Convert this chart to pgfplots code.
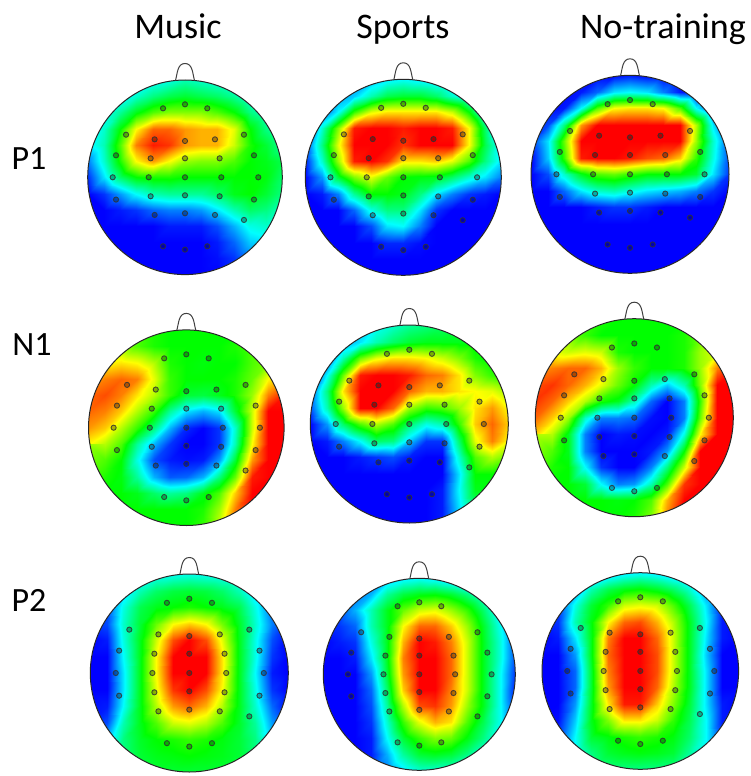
\documentclass[border=0pt]{standalone}
\usepackage{pgfplots}
\pgfplotsset{compat=1.18}
\usepackage{pgfplotstable}
\usepackage{fontspec}
\setmainfont{Carlito}
\pgfplotstableread{
x y
-.226 -.709
0 -.75
.229 -.709
-.606 -.438
-.312 -.390
0 -.373
.308 -.390
.606 -.438
-.709 -.226
-.353 -.195
0 -.195
.356 -.195
.709 -.226
-.743 0
-.373 0
0 0
.373 0
.753 0
-.709 .229
-.353 .195
0 .185
.356 .195
.709 .229
-.312 .387
0 .370
.308 .387
.606 .438
-.226 .709
0 .743
.229 .709
}\electrodes
\newcommand\headmap[4]{%
 \addplot[surf,shader=interp,mesh/cols=13,mesh/ordering=x varies,point meta=explicit]
  table[row sep=crcr,header=false,x expr={#1+(mod(\coordindex,13)-6)*#3/6},y expr={#2+(floor(\coordindex/13)-6)*#3/6},meta index=0] {#4};
}
\newcommand\headdeco[3]{%
 \fill[white,even odd rule] (axis cs:{#1-#3-4},{#2-#3-4}) rectangle (axis cs:{#1+#3+4},{#2+#3+4}) (axis cs:#1,#2) circle[radius=#3pt];
 \draw[black!85,line width=1pt] (axis cs:#1,#2) circle[radius=#3pt];
 \draw[black!75,line width=1pt] (axis cs:{#1-9.5},{#2-#3+.5}) to[out=75,in=180] (axis cs:#1,{#2-#3-16.5}) to[out=0,in=105] (axis cs:{#1+9.5},{#2-#3+.5});
 \addplot[only marks,mark=*,mark size=2.6pt,mark options={draw=black!80,line width=.9pt,fill=black,fill opacity=.3,draw opacity=.85}] table[x expr={#1+\thisrow{x}*#3},y expr={#2+\thisrow{y}*#3}] {\electrodes};
}
\begin{document}
\begin{tikzpicture}
\begin{axis}[hide axis,scale only axis,width=750pt,height=776pt,xmin=0,xmax=750,ymin=0,ymax=776,y dir=reverse,clip=false,
 colormap={hd}{rgb255=(0,0,255) rgb255=(0,255,255) rgb255=(0,255,0) rgb255=(255,255,0) rgb255=(255,0,0)},
 point meta min=0,point meta max=4]
\path (axis cs:0,0) rectangle (axis cs:750,776);
% P1 Music
\headmap{185}{177.3}{97.3}{.6\\.7\\.8\\.9\\1\\1.1\\1.3\\1.2\\1.1\\1\\.9\\.8\\.7\\
.7\\.8\\.9\\1.2\\1.5\\1.7\\1.8\\1.7\\1.6\\1.4\\1.1\\.9\\.8\\
.8\\1\\1.4\\1.9\\2.3\\2.5\\2.5\\2.5\\2.3\\2\\1.5\\1.2\\1\\
.9\\1.2\\2\\3\\3.6\\3.6\\3.4\\3.3\\3.3\\2.9\\2\\1.5\\1.2\\
.9\\1.3\\2.3\\3.5\\3.9\\3.8\\3.4\\3.3\\3.3\\2.8\\2.1\\1.8\\1.4\\
.5\\1.2\\2.1\\3\\3.4\\3\\2.6\\2.5\\2.5\\2.3\\2\\1.9\\1.7\\
.2\\.9\\1.6\\2\\2.1\\2.1\\2\\2\\2\\2\\2\\1.95\\1.6\\
0\\.2\\.6\\1\\1.3\\1.4\\1.4\\1.4\\1.6\\1.9\\2\\1.8\\1.5\\
0\\0\\.1\\.2\\.4\\.5\\.5\\.6\\.9\\1.3\\1.6\\1.5\\1.2\\
0\\0\\0\\0\\0\\.1\\.1\\.1\\.3\\.7\\1.1\\1.2\\1\\
0\\0\\0\\0\\0\\0\\0\\0\\.1\\.4\\.8\\.9\\.8\\
0\\0\\0\\0\\0\\0\\0\\0\\.05\\.2\\.5\\.6\\.6\\
0\\0\\0\\0\\0\\0\\0\\0\\0\\.1\\.3\\.4\\.4\\}
% P1 Sports
\headmap{403.3}{177.3}{98}{.3\\.4\\.5\\.6\\.7\\.9\\1\\.9\\.8\\.7\\.6\\.5\\.4\\
.3\\.4\\.6\\.8\\1.3\\1.7\\1.8\\1.8\\1.6\\1.2\\.9\\.6\\.4\\
.2\\.3\\1\\2.2\\2.9\\3.1\\3.1\\3.1\\3.1\\2.8\\2\\.9\\.5\\
0\\1.2\\2.5\\3.9\\4.2\\4.1\\3.9\\4.2\\4.2\\3.9\\3\\1.6\\.5\\
.2\\1.5\\2.9\\4.2\\4.5\\4.2\\3.8\\4\\4.2\\4\\3\\1.7\\.9\\
.1\\1.2\\2.6\\3.9\\4.3\\3.8\\3.1\\3.1\\3.2\\2.9\\2.3\\1.5\\.9\\
0\\.6\\1.8\\2.5\\2.9\\2.4\\2\\1.95\\1.9\\1.6\\1.2\\.9\\.5\\
0\\.1\\.5\\1.4\\2\\2\\1.9\\1.5\\.9\\.5\\.2\\.1\\0\\
0\\0\\0\\.4\\1.1\\1.5\\1.5\\.9\\.2\\0\\0\\0\\0\\
0\\0\\0\\0\\.3\\.9\\1\\.5\\0\\0\\0\\0\\0\\
0\\0\\0\\0\\0\\.15\\.15\\.05\\0\\0\\0\\0\\0\\
0\\0\\0\\0\\0\\0\\0\\0\\0\\0\\0\\0\\0\\
0\\0\\0\\0\\0\\0\\0\\0\\0\\0\\0\\0\\0\\}
% P1 No-training
\headmap{630}{174.3}{99}{0\\0\\0\\0\\0\\0\\.1\\0\\0\\0\\0\\0\\0\\
0\\0\\0\\.1\\.4\\.9\\1\\.9\\.5\\.1\\0\\0\\0\\
0\\0\\.1\\1\\2.3\\3\\3.1\\3.1\\3\\2.3\\1\\.2\\0\\
0\\.3\\1.5\\3.4\\4.4\\4.5\\4.5\\4.5\\4.5\\4.3\\2.7\\.9\\.1\\
.2\\.9\\2.4\\4\\4.6\\4.6\\4.4\\4.4\\4.4\\4\\2.6\\1.2\\.3\\
0\\.8\\2.2\\3.9\\4.4\\4.2\\3.9\\3.7\\3.6\\3.2\\2.2\\1.1\\.3\\
0\\.3\\1.2\\1.9\\2.3\\2.4\\2.2\\2\\2\\2\\1.8\\.9\\.2\\
0\\0\\.4\\.9\\1.2\\1.3\\1.1\\.9\\.8\\.7\\.5\\.2\\0\\
0\\0\\0\\0\\.1\\.2\\.2\\.1\\0\\0\\0\\0\\0\\
0\\0\\0\\0\\0\\0\\0\\0\\0\\0\\0\\0\\0\\
0\\0\\0\\0\\0\\0\\0\\0\\0\\0\\0\\0\\0\\
0\\0\\0\\0\\0\\0\\0\\0\\0\\0\\0\\0\\0\\
0\\0\\0\\0\\0\\0\\0\\0\\0\\0\\0\\0\\0\\}
% N1 Music
\headmap{186.3}{427.7}{97.8}{2.6\\2.5\\2.4\\2.3\\2.1\\2\\2\\2\\2\\2\\2.2\\2.4\\2.6\\
2.8\\2.7\\2.6\\2.3\\2.1\\2\\2\\2\\2\\2.1\\2.3\\2.5\\2.7\\
3\\3\\3.1\\3\\2.7\\2.1\\2\\1.95\\2\\2\\2.3\\2.5\\3\\
3.3\\3.5\\3.6\\3.5\\2.9\\2.2\\2\\2\\2\\2.1\\2.4\\3\\3.4\\
3.6\\3.7\\3.5\\3.1\\2.7\\2.2\\1.8\\1.75\\1.9\\2.1\\2.6\\3.5\\3.9\\
3.6\\3.5\\3.2\\2.7\\2.2\\1.4\\.9\\.7\\.9\\1.8\\2.8\\4\\4.5\\
3.4\\3.2\\2.7\\2.2\\1.5\\.7\\.15\\0\\.2\\1.2\\2.8\\4.2\\4.7\\
3\\2.7\\2.3\\1.4\\.7\\.2\\0\\0\\.2\\1.3\\3\\4.3\\4.8\\
2.6\\2.3\\2\\1.1\\.3\\.1\\.05\\.1\\.6\\1.8\\3.4\\4.4\\4.7\\
2.3\\2.1\\1.95\\1.4\\.7\\.35\\.4\\.7\\1.5\\2.4\\3.9\\4.5\\4.6\\
2.2\\2\\2\\1.9\\1.6\\1.4\\1.5\\1.9\\2.3\\3.2\\4.2\\4.4\\4.5\\
2\\2\\2\\2\\2\\2\\2\\2.1\\2.6\\3.5\\4.1\\4.2\\4.2\\
2\\2\\2\\2\\2\\2\\2\\2.2\\2.8\\3.5\\4\\4\\4\\}
% N1 Sports
\headmap{409.3}{424}{99}{.5\\.6\\.7\\.8\\1\\1.2\\1.4\\1.5\\1.6\\1.7\\1.8\\1.8\\1.8\\
.4\\.5\\.6\\.9\\1.3\\1.6\\1.8\\1.9\\1.9\\1.9\\1.9\\1.9\\1.9\\
.2\\.3\\1.3\\2.4\\2.9\\3.1\\3.1\\3\\2.8\\2.5\\2.1\\1.9\\1.9\\
0\\1\\2.4\\3.9\\4.3\\4.3\\3.9\\3.6\\3.5\\3.1\\2.5\\2.2\\2\\
.3\\1.5\\3.1\\4.3\\4.6\\4.2\\3.6\\3.3\\3.3\\3.1\\3\\2.9\\2.6\\
.3\\1.3\\2.6\\4.1\\4.3\\3.6\\2.6\\2.2\\2.3\\2.6\\3.1\\3.4\\3\\
0\\.6\\1.6\\2.3\\2.7\\2.3\\1.6\\1.1\\1.3\\2.2\\3.2\\3.6\\3.2\\
0\\.1\\.5\\1\\1.6\\1.5\\.8\\.2\\.2\\1.6\\2.9\\3.5\\3\\
0\\0\\0\\.1\\.2\\.3\\.1\\0\\0\\1.2\\2.3\\2.7\\2.4\\
0\\0\\0\\0\\0\\0\\0\\0\\0\\.9\\2\\2\\1.9\\
0\\0\\0\\0\\0\\0\\0\\0\\.1\\1\\1.9\\2\\1.9\\
0\\0\\0\\0\\0\\0\\0\\0\\.1\\.9\\1.5\\1.7\\1.7\\
0\\0\\0\\0\\0\\0\\0\\0\\.1\\.7\\1.2\\1.4\\1.4\\}
% N1 No-training
\headmap{634.3}{417.7}{99}{2.5\\2.4\\2.3\\2.2\\2.1\\2\\2\\2\\2\\2\\2.3\\2.6\\2.9\\
2.8\\2.7\\2.5\\2.2\\2\\2\\2\\2\\2\\2.1\\2.4\\2.8\\3.2\\
3\\2.9\\2.8\\2.9\\2.8\\2.1\\2\\2\\2\\2.1\\2.6\\2.9\\3.4\\
3.3\\3.5\\3.6\\3.6\\3.3\\2.6\\2.2\\2\\2\\2.1\\2.6\\3.5\\3.9\\
3.7\\3.8\\3.6\\3.3\\2.9\\2.4\\2\\1.3\\.8\\1.3\\2.5\\4\\4.5\\
3.8\\3.6\\3.2\\2.7\\2.1\\1.9\\1.3\\.4\\0\\.5\\2.2\\4.2\\4.7\\
3.6\\3.2\\2.6\\1.2\\.5\\.5\\.4\\.05\\0\\.5\\2.4\\4.5\\5\\
3.2\\2.7\\1.9\\.5\\0\\.1\\.05\\0\\.1\\1.1\\3\\4.6\\5\\
2.7\\2.3\\1.9\\.5\\0\\0\\0\\.1\\.6\\2\\4\\4.7\\4.8\\
2.4\\2.1\\2\\1\\.2\\0\\0\\.5\\1.5\\2.8\\4.4\\4.7\\4.7\\
2.2\\2\\2\\1.8\\1\\.5\\.6\\1.3\\2.3\\3.8\\4.5\\4.6\\4.6\\
2\\2\\2\\2\\2\\1.95\\2\\2.3\\3.3\\4.3\\4.5\\4.5\\4.5\\
2\\2\\2\\2\\2\\2\\2.1\\2.5\\3.5\\4.2\\4.4\\4.4\\4.4\\}
% P2 Music
\headmap{189.3}{673}{99}{.3\\.5\\.7\\.9\\1\\1.05\\1.1\\1.05\\1\\.9\\.7\\.5\\.3\\
.2\\.4\\.8\\1.3\\1.6\\1.75\\1.8\\1.75\\1.6\\1.3\\.8\\.4\\.2\\
.1\\.3\\1.1\\1.7\\1.9\\2\\2.1\\2\\1.9\\1.7\\1.1\\.4\\.2\\
.1\\.3\\1.2\\1.8\\2.4\\3\\3.2\\3\\2.45\\1.85\\1.2\\.5\\.1\\
0\\.1\\1.1\\1.9\\2.8\\3.7\\4\\3.7\\2.9\\1.9\\1.1\\.3\\0\\
0\\0\\1\\1.9\\3\\4\\4.4\\4.1\\3.1\\1.9\\1.1\\.2\\0\\
0\\0\\.9\\1.9\\3\\4\\4.4\\4.1\\3.1\\1.9\\1\\.1\\0\\
0\\0\\.9\\1.9\\2.9\\3.8\\4.1\\3.7\\3\\1.9\\1.1\\.2\\0\\
0\\.1\\1\\1.9\\2.7\\3.4\\3.6\\3.3\\2.7\\1.9\\1.2\\.4\\0\\
.1\\.3\\1.3\\1.9\\2.3\\2.8\\2.9\\2.7\\2.3\\1.85\\1.4\\.6\\.2\\
.2\\.7\\1.5\\1.85\\2\\2.1\\2.2\\2.1\\1.95\\1.8\\1.5\\.8\\.4\\
.5\\1\\1.5\\1.8\\1.9\\1.95\\2\\1.95\\1.9\\1.8\\1.5\\1\\.6\\
.8\\1.2\\1.5\\1.7\\1.8\\1.8\\1.8\\1.8\\1.8\\1.7\\1.5\\1.2\\.8\\}
% P2 Sports
\headmap{419.3}{674.3}{96}{.1\\.2\\.3\\.5\\.7\\.9\\1\\.9\\.7\\.5\\.3\\.2\\.1\\
.1\\.2\\.4\\.7\\1.4\\1.75\\1.9\\1.95\\1.8\\1.5\\1.1\\.4\\.1\\
.1\\.3\\.7\\1.3\\1.9\\2.4\\2.8\\2.9\\2.6\\2.2\\1.6\\.9\\.2\\
0\\.2\\.4\\1.3\\1.9\\3\\3.6\\3.6\\3.2\\2.6\\1.85\\1.1\\.3\\
0\\.1\\.2\\1.1\\1.9\\3.3\\4.1\\3.9\\3.5\\2.8\\1.9\\1.2\\.3\\
0\\0\\.1\\.9\\1.9\\3.5\\4.3\\4.1\\3.6\\2.8\\1.9\\1.2\\.3\\
0\\0\\0\\.6\\1.8\\3.4\\4.2\\4.1\\3.6\\2.8\\1.9\\1.1\\.2\\
0\\0\\0\\.4\\1.6\\3.2\\4.1\\4\\3.5\\2.8\\1.9\\1.1\\.1\\
0\\0\\0\\.3\\1.4\\2.7\\3.7\\3.8\\3.4\\2.6\\1.9\\1.1\\.2\\
0\\0\\0\\.2\\1.2\\2.2\\2.9\\3.3\\3.1\\2.3\\1.7\\1.1\\.3\\
0\\0\\0\\.1\\1\\1.8\\2.2\\2.5\\2.4\\1.95\\1.5\\1\\.4\\
0\\0\\0\\.1\\.7\\1.4\\1.8\\1.9\\1.8\\1.5\\1.1\\.7\\.4\\
0\\0\\.1\\.2\\.5\\.9\\1.2\\1.2\\1.2\\1\\.7\\.5\\.3\\}
% P2 No-training
\headmap{640.3}{671}{98.3}{.1\\.2\\.3\\.5\\.7\\.9\\1\\.9\\.7\\.5\\.3\\.2\\.1\\
.1\\.2\\.5\\1.3\\1.7\\1.9\\2\\1.85\\1.6\\1.2\\.5\\.1\\0\\
.1\\.2\\1.1\\1.8\\2.2\\2.8\\2.9\\2.8\\2.3\\1.7\\.9\\.1\\0\\
.1\\.2\\1.3\\1.95\\3\\3.6\\3.7\\3.3\\2.7\\1.9\\1\\.1\\0\\
0\\.1\\.9\\1.9\\3.5\\4.1\\4.1\\3.6\\2.8\\1.9\\.9\\.1\\0\\
0\\0\\.6\\1.9\\3.6\\4.3\\4.3\\3.7\\2.8\\1.9\\.8\\0\\0\\
0\\0\\.4\\1.8\\3.5\\4.3\\4.3\\3.7\\2.8\\1.9\\.9\\0\\0\\
0\\0\\.4\\1.8\\3.4\\4.3\\4.2\\3.6\\2.7\\1.9\\.9\\0\\0\\
0\\0\\.6\\1.85\\3.1\\3.9\\3.9\\3.2\\2.5\\1.8\\.9\\.1\\0\\
0\\.05\\.8\\1.9\\2.5\\3.1\\3.1\\2.8\\2.2\\1.7\\1\\.1\\0\\
0\\.2\\1\\1.8\\1.95\\2.1\\2.2\\2.1\\1.95\\1.6\\1\\.2\\0\\
.1\\.4\\1\\1.5\\1.8\\1.9\\1.95\\1.9\\1.8\\1.4\\1\\.4\\.1\\
.2\\.6\\1\\1.4\\1.5\\1.5\\1.5\\1.5\\1.5\\1.3\\.9\\.5\\.2\\}
\headdeco{185}{177.3}{97.3}
\headdeco{403.3}{177.3}{98}
\headdeco{630}{174.3}{99}
\headdeco{186.3}{427.7}{97.8}
\headdeco{409.3}{424}{99}
\headdeco{634.3}{417.7}{99}
\headdeco{189.3}{673}{99}
\headdeco{419.3}{674.3}{96}
\headdeco{640.3}{671}{98.3}
\path (axis cs:178,39) node[anchor=base] {\fontsize{36}{40}\selectfont Music};
\path (axis cs:403,38) node[anchor=base] {\fontsize{36}{40}\selectfont Sports};
\path (axis cs:663,38) node[anchor=base] {\fontsize{36}{40}\selectfont No-training};
\path (axis cs:29,169) node[anchor=base] {\fontsize{34}{38}\selectfont P1};
\path (axis cs:32,355) node[anchor=base] {\fontsize{34}{38}\selectfont N1};
\path (axis cs:29,611) node[anchor=base] {\fontsize{34}{38}\selectfont P2};
\end{axis}
\end{tikzpicture}
\end{document}
